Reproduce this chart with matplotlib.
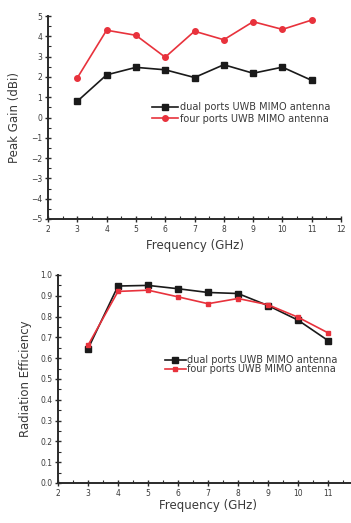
import matplotlib
matplotlib.use("Agg")
import matplotlib.pyplot as plt
from matplotlib.ticker import MultipleLocator, FormatStrFormatter

# Frequency points (GHz)
freq = [3, 4, 5, 6, 7, 8, 9, 10, 11]

# Peak gain (dBi)
gain_dual = [0.8, 2.1, 2.47, 2.35, 1.97, 2.6, 2.18, 2.48, 1.83]
gain_four = [1.95, 4.3, 4.05, 2.97, 4.25, 3.83, 4.72, 4.34, 4.8]

# Radiation efficiency
eff_dual = [0.645, 0.947, 0.950, 0.934, 0.916, 0.911, 0.853, 0.783, 0.685]
eff_four = [0.662, 0.921, 0.927, 0.895, 0.862, 0.887, 0.857, 0.797, 0.722]

label_dual = "dual ports UWB MIMO antenna"
label_four = "four ports UWB MIMO antenna"

W, H = 351, 523
fig = plt.figure(figsize=(W / 100, H / 100), dpi=100)
fig.patch.set_facecolor("white")

txt = "#3a3a3a"
black = "#1a1a1a"
red = "#e8323c"


def px_axes(left, right, top, bottom):
    return fig.add_axes([left / W, (H - bottom) / H, (right - left) / W, (bottom - top) / H])


def style(ax):
    for s in ("top", "right"):
        ax.spines[s].set_visible(False)
    for s in ("left", "bottom"):
        ax.spines[s].set_linewidth(1.4)
        ax.spines[s].set_color("#2a2a2a")
    ax.tick_params(which="major", direction="inout", length=4, width=1.0,
                   labelsize=5.5, labelcolor=txt, color="#2a2a2a", pad=2)
    ax.tick_params(which="minor", direction="in", length=2, width=0.8, color="#2a2a2a")
    ax.xaxis.set_major_locator(MultipleLocator(1))
    ax.xaxis.set_minor_locator(MultipleLocator(0.5))


# Peak gain panel
ax1 = px_axes(48, 341, 16, 219)
ax1.plot(freq, gain_dual, color=black, lw=1.2, marker="s", ms=4, label=label_dual)
ax1.plot(freq, gain_four, color=red, lw=1.2, marker="o", ms=4, label=label_four)
ax1.set_xlim(2, 12)
ax1.set_ylim(-5, 5)
style(ax1)
ax1.yaxis.set_major_locator(MultipleLocator(1))
ax1.yaxis.set_minor_locator(MultipleLocator(0.5))
ax1.set_xlabel("Frequency (GHz)", fontsize=8.5, color=txt, labelpad=4)
ax1.set_ylabel("Peak Gain (dBi)", fontsize=8.5, color=txt, labelpad=7)
ax1.legend(loc="upper left", bbox_to_anchor=(0.355, 0.576), frameon=False,
           fontsize=7, handlelength=2.7, handletextpad=0.2, labelspacing=0.15,
           borderaxespad=0, borderpad=0, labelcolor=txt)

# Radiation efficiency panel
ax2 = px_axes(58, 358, 275, 483)
ax2.plot(freq, eff_dual, color=black, lw=1.2, marker="s", ms=4, label=label_dual)
ax2.plot(freq, eff_four, color=red, lw=1.2, marker="s", ms=3.5, label=label_four)
ax2.set_xlim(2, 12)
ax2.set_ylim(0.0, 1.0)
style(ax2)
ax2.yaxis.set_major_locator(MultipleLocator(0.1))
ax2.yaxis.set_minor_locator(MultipleLocator(0.05))
ax2.yaxis.set_major_formatter(FormatStrFormatter("%.1f"))
ax2.set_xlabel("Frequency (GHz)", fontsize=8.5, color=txt, labelpad=1)
ax2.set_ylabel("Radiation Efficiency", fontsize=8.5, color=txt, labelpad=6)
ax2.legend(loc="upper left", bbox_to_anchor=(0.357, 0.613), frameon=False,
           fontsize=7, handlelength=2.1, handletextpad=0.2, labelspacing=-0.15,
           borderaxespad=0, borderpad=0, labelcolor=txt)

fig.savefig("out.png", dpi=100, facecolor="white")
